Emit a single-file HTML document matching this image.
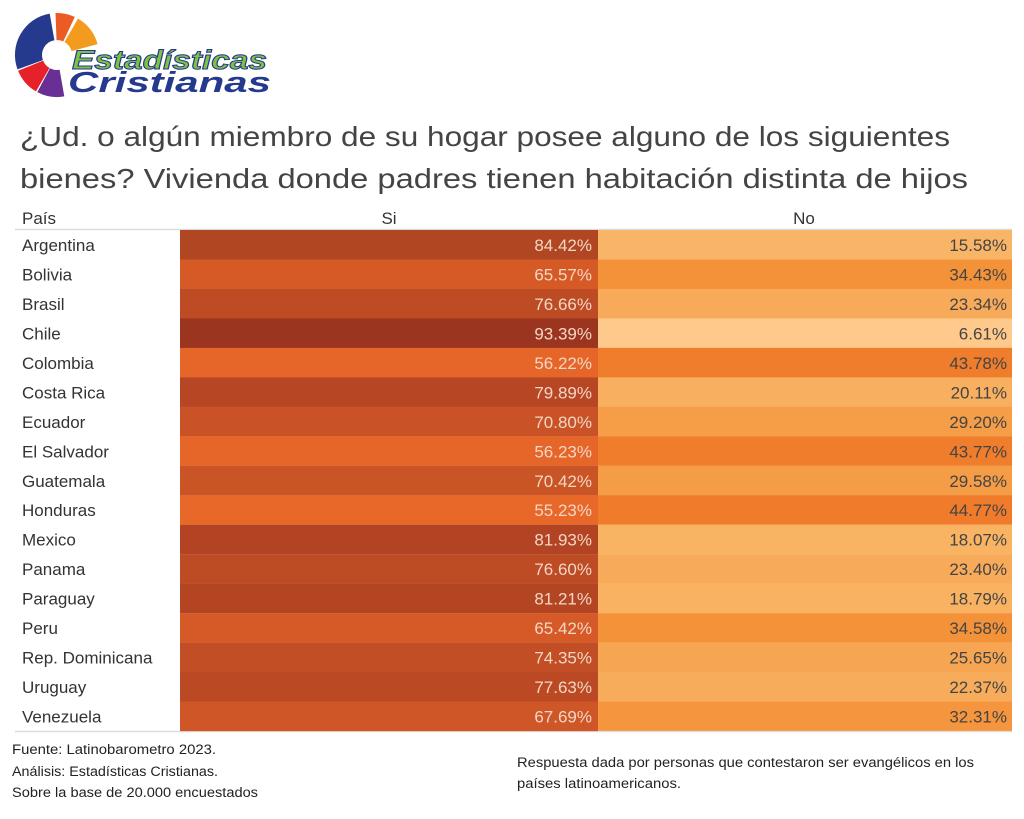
<!DOCTYPE html>
<html><head><meta charset="utf-8"><style>
html,body{margin:0;padding:0;background:#fff;width:1024px;height:819px;overflow:hidden}
svg{display:block}
</style></head><body>
<svg width="1024" height="819" viewBox="0 0 1024 819" xmlns="http://www.w3.org/2000/svg" font-family="Liberation Sans, DejaVu Sans, sans-serif">
<!-- logo -->
<g>
<path d="M17.5,69.4 A42,42 0 0 1 49.7,13.6 L54.4,40.2 A15,15 0 0 0 42.9,60.1 Z" fill="#253a8c"/>
<path d="M55.5,13 A42,42 0 0 1 74.8,16.9 L63.3,41.4 A15,15 0 0 0 56.5,40 Z" fill="#ec5a26"/>
<path d="M78,18.6 A42,42 0 0 1 97.6,44.1 L71.5,51.1 A15,15 0 0 0 64.5,42 Z" fill="#f39b1f"/>
<path d="M36,91.4 A42,42 0 0 1 18.1,70.7 L43.1,60.6 A15,15 0 0 0 49.5,68 Z" fill="#e62129"/>
<path d="M64.3,96.4 A42,42 0 0 1 37.3,92.1 L50,68.2 A15,15 0 0 0 59.6,69.8 Z" fill="#6a2f95"/>
<text x="72" y="69" font-size="27" font-weight="bold" font-style="italic" fill="#7dc242" stroke="#253a8c" stroke-width="1" textLength="195" lengthAdjust="spacingAndGlyphs">Estadísticas</text>
<text x="68" y="92" font-size="29" font-weight="bold" font-style="italic" fill="#253a8c" textLength="203" lengthAdjust="spacingAndGlyphs">Cristianas</text>
</g>
<!-- title -->
<text x="20" y="146" font-size="28" fill="#444" textLength="930" lengthAdjust="spacingAndGlyphs">¿Ud. o algún miembro de su hogar posee alguno de los siguientes</text>
<text x="20" y="188" font-size="28" fill="#444" textLength="948" lengthAdjust="spacingAndGlyphs">bienes?  Vivienda donde padres tienen habitación distinta de hijos</text>
<!-- header -->
<g font-size="17" fill="#333">
<text x="22" y="224">País</text>
<text x="389" y="224" text-anchor="middle">Si</text>
<text x="804" y="224" text-anchor="middle">No</text>
</g>
<line x1="15" y1="229.5" x2="1012" y2="229.5" stroke="#ddd" stroke-width="1.5"/>
<line x1="15" y1="731.5" x2="1012" y2="731.5" stroke="#ddd" stroke-width="1.5"/>
<g font-size="13.5" fill="#222">
<text x="12" y="754" textLength="204" lengthAdjust="spacingAndGlyphs">Fuente: Latinobarometro 2023.</text>
<text x="12" y="776" textLength="206" lengthAdjust="spacingAndGlyphs">Análisis: Estadísticas Cristianas.</text>
<text x="12" y="797" textLength="246" lengthAdjust="spacingAndGlyphs">Sobre la base de 20.000 encuestados</text>
<text x="517" y="767" textLength="457" lengthAdjust="spacingAndGlyphs">Respuesta dada por personas que contestaron ser evangélicos en los</text>
<text x="517" y="788" textLength="164" lengthAdjust="spacingAndGlyphs">países latinoamericanos.</text>
</g>
<!-- data rows -->
<g font-size="17">
<rect x="180" y="230" width="418" height="29.6" fill="#b04622"/><rect x="598" y="230" width="414" height="29.6" fill="#f9b567"/>
<rect x="180" y="259.5" width="418" height="29.6" fill="#d65a26"/><rect x="598" y="259.5" width="414" height="29.6" fill="#f49239"/>
<rect x="180" y="289" width="418" height="29.6" fill="#bd4b24"/><rect x="598" y="289" width="414" height="29.6" fill="#f7aa59"/>
<rect x="180" y="318.4" width="418" height="29.6" fill="#9c3520"/><rect x="598" y="318.4" width="414" height="29.6" fill="#fec98a"/>
<rect x="180" y="347.9" width="418" height="29.6" fill="#e66629"/><rect x="598" y="347.9" width="414" height="29.6" fill="#f07d2c"/>
<rect x="180" y="377.4" width="418" height="29.6" fill="#b74724"/><rect x="598" y="377.4" width="414" height="29.6" fill="#f8b060"/>
<rect x="180" y="406.8" width="418" height="29.6" fill="#c95326"/><rect x="598" y="406.8" width="414" height="29.6" fill="#f59d47"/>
<rect x="180" y="436.3" width="418" height="29.6" fill="#e66629"/><rect x="598" y="436.3" width="414" height="29.6" fill="#f07d2c"/>
<rect x="180" y="465.8" width="418" height="29.6" fill="#c95426"/><rect x="598" y="465.8" width="414" height="29.6" fill="#f59c46"/>
<rect x="180" y="495.2" width="418" height="29.6" fill="#e8682a"/><rect x="598" y="495.2" width="414" height="29.6" fill="#ef7b2b"/>
<rect x="180" y="524.7" width="418" height="29.6" fill="#b34423"/><rect x="598" y="524.7" width="414" height="29.6" fill="#f8b363"/>
<rect x="180" y="554.2" width="418" height="29.6" fill="#bd4b24"/><rect x="598" y="554.2" width="414" height="29.6" fill="#f7aa59"/>
<rect x="180" y="583.6" width="418" height="29.6" fill="#b44523"/><rect x="598" y="583.6" width="414" height="29.6" fill="#f8b262"/>
<rect x="180" y="613.1" width="418" height="29.6" fill="#d65a27"/><rect x="598" y="613.1" width="414" height="29.6" fill="#f49239"/>
<rect x="180" y="642.6" width="418" height="29.6" fill="#c24e25"/><rect x="598" y="642.6" width="414" height="29.6" fill="#f6a552"/>
<rect x="180" y="672" width="418" height="29.6" fill="#bb4a24"/><rect x="598" y="672" width="414" height="29.6" fill="#f7ac5b"/>
<rect x="180" y="701.5" width="418" height="29.6" fill="#cf5727"/><rect x="598" y="701.5" width="414" height="29.4" fill="#f5963e"/>
</g>
<g font-size="17" fill="#333">
<text x="22" y="251">Argentina</text>
<text x="22" y="280.5">Bolivia</text>
<text x="22" y="310">Brasil</text>
<text x="22" y="339.4">Chile</text>
<text x="22" y="368.9">Colombia</text>
<text x="22" y="398.4">Costa Rica</text>
<text x="22" y="427.8">Ecuador</text>
<text x="22" y="457.3">El Salvador</text>
<text x="22" y="486.8">Guatemala</text>
<text x="22" y="516.2">Honduras</text>
<text x="22" y="545.7">Mexico</text>
<text x="22" y="575.2">Panama</text>
<text x="22" y="604.6">Paraguay</text>
<text x="22" y="634.1">Peru</text>
<text x="22" y="663.6">Rep. Dominicana</text>
<text x="22" y="693">Uruguay</text>
<text x="22" y="722.5">Venezuela</text>
</g>
<g font-size="17" fill="#f3d6c4" text-anchor="end">
<text x="592" y="251">84.42%</text>
<text x="592" y="280.5">65.57%</text>
<text x="592" y="310">76.66%</text>
<text x="592" y="339.4">93.39%</text>
<text x="592" y="368.9">56.22%</text>
<text x="592" y="398.4">79.89%</text>
<text x="592" y="427.8">70.80%</text>
<text x="592" y="457.3">56.23%</text>
<text x="592" y="486.8">70.42%</text>
<text x="592" y="516.2">55.23%</text>
<text x="592" y="545.7">81.93%</text>
<text x="592" y="575.2">76.60%</text>
<text x="592" y="604.6">81.21%</text>
<text x="592" y="634.1">65.42%</text>
<text x="592" y="663.6">74.35%</text>
<text x="592" y="693">77.63%</text>
<text x="592" y="722.5">67.69%</text>
</g>
<g font-size="17" fill="#444" text-anchor="end">
<text x="1007" y="251">15.58%</text>
<text x="1007" y="280.5">34.43%</text>
<text x="1007" y="310">23.34%</text>
<text x="1007" y="339.4">6.61%</text>
<text x="1007" y="368.9">43.78%</text>
<text x="1007" y="398.4">20.11%</text>
<text x="1007" y="427.8">29.20%</text>
<text x="1007" y="457.3">43.77%</text>
<text x="1007" y="486.8">29.58%</text>
<text x="1007" y="516.2">44.77%</text>
<text x="1007" y="545.7">18.07%</text>
<text x="1007" y="575.2">23.40%</text>
<text x="1007" y="604.6">18.79%</text>
<text x="1007" y="634.1">34.58%</text>
<text x="1007" y="663.6">25.65%</text>
<text x="1007" y="693">22.37%</text>
<text x="1007" y="722.5">32.31%</text>
</g>
</svg>
</body></html>
